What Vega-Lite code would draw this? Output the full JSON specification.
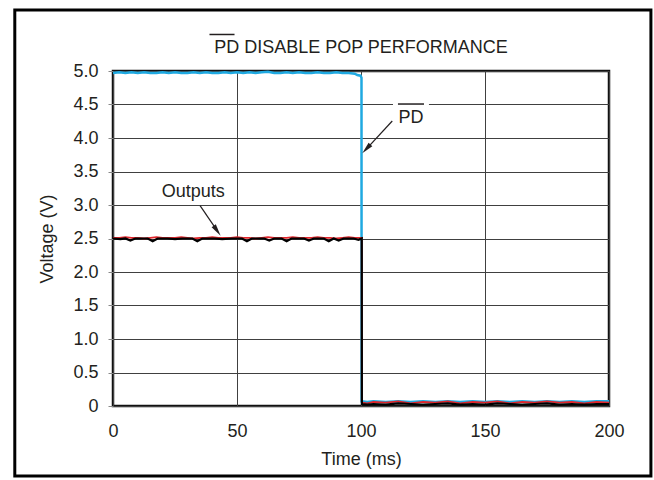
{
  "$schema": "https://vega.github.io/schema/vega-lite/v6.json",
  "width": 496,
  "height": 335,
  "autosize": {"type": "none"},
  "padding": {"left": 113, "top": 71, "right": 45, "bottom": 74},
  "background": "white",
  "config": {
    "font": "Liberation Sans",
    "view": {"stroke": "#111111", "strokeWidth": 2.5},
    "axis": {
      "labelFont": "Liberation Sans", "titleFont": "Liberation Sans",
      "labelFontSize": 18, "titleFontSize": 18, "labelColor": "#231f20", "titleColor": "#231f20",
      "titleFontWeight": "normal", "domain": false, "labelFlush": false, "labelOverlap": false,
      "grid": true, "gridColor": "#404040", "gridWidth": 1, "gridOpacity": 1
    },
    "axisX": {"tickCount": 4, "ticks": false, "labelPadding": 16, "titlePadding": 10},
    "axisY": {"tickCount": 10, "ticks": true, "tickSize": 5, "tickColor": "#888888", "tickWidth": 1,
      "labelPadding": 10, "titlePadding": 16,
      "labelExpr": "datum.value == 0 ? '0' : format(datum.value, '.1f')"}
  },
  "datasets": {
    "pd": [
      {"t": 0, "v": 4.97}, {"t": 2.5, "v": 4.98}, {"t": 5, "v": 4.97}, {"t": 7.5, "v": 4.98}, {"t": 10, "v": 4.97},
      {"t": 12.5, "v": 4.98}, {"t": 15, "v": 4.97}, {"t": 17.5, "v": 4.97}, {"t": 20, "v": 4.98}, {"t": 22.5, "v": 4.97},
      {"t": 25, "v": 4.98}, {"t": 27.5, "v": 4.97}, {"t": 30, "v": 4.97}, {"t": 32.5, "v": 4.98}, {"t": 35, "v": 4.97},
      {"t": 37.5, "v": 4.98}, {"t": 40, "v": 4.97}, {"t": 42.5, "v": 4.97}, {"t": 45, "v": 4.98}, {"t": 47.5, "v": 4.97},
      {"t": 50, "v": 4.98}, {"t": 52.5, "v": 4.97}, {"t": 55, "v": 4.98}, {"t": 57.5, "v": 4.97}, {"t": 60, "v": 4.98},
      {"t": 62.5, "v": 4.99}, {"t": 65, "v": 4.97}, {"t": 67.5, "v": 4.97}, {"t": 70, "v": 4.98}, {"t": 72.5, "v": 4.97},
      {"t": 75, "v": 4.98}, {"t": 77.5, "v": 4.97}, {"t": 80, "v": 4.97}, {"t": 82.5, "v": 4.98}, {"t": 85, "v": 4.97},
      {"t": 87.5, "v": 4.97}, {"t": 90, "v": 4.98}, {"t": 92.5, "v": 4.97}, {"t": 95, "v": 4.97}, {"t": 97.5, "v": 4.96},
      {"t": 98.5, "v": 4.94}, {"t": 99.8, "v": 4.93}, {"t": 100.2, "v": 4.9}, {"t": 100.25, "v": 0.07},
      {"t": 102.5, "v": 0.06}, {"t": 105, "v": 0.07}, {"t": 110, "v": 0.06}, {"t": 115, "v": 0.07}, {"t": 120, "v": 0.06},
      {"t": 125, "v": 0.07}, {"t": 130, "v": 0.06}, {"t": 135, "v": 0.07}, {"t": 140, "v": 0.06}, {"t": 145, "v": 0.07},
      {"t": 150, "v": 0.06}, {"t": 155, "v": 0.07}, {"t": 160, "v": 0.06}, {"t": 165, "v": 0.07}, {"t": 170, "v": 0.06},
      {"t": 175, "v": 0.07}, {"t": 180, "v": 0.06}, {"t": 185, "v": 0.07}, {"t": 190, "v": 0.06}, {"t": 195, "v": 0.07},
      {"t": 200, "v": 0.07}
    ],
    "outRed": [
      {"t": 0, "v": 2.51}, {"t": 2.5, "v": 2.51}, {"t": 5, "v": 2.52}, {"t": 7.5, "v": 2.51}, {"t": 10, "v": 2.51},
      {"t": 12.5, "v": 2.5}, {"t": 15, "v": 2.51}, {"t": 17.5, "v": 2.52}, {"t": 20, "v": 2.51}, {"t": 22.5, "v": 2.51},
      {"t": 25, "v": 2.51}, {"t": 27.5, "v": 2.52}, {"t": 30, "v": 2.51}, {"t": 32.5, "v": 2.5}, {"t": 35, "v": 2.51},
      {"t": 37.5, "v": 2.51}, {"t": 40, "v": 2.52}, {"t": 42.5, "v": 2.51}, {"t": 45, "v": 2.51}, {"t": 47.5, "v": 2.51},
      {"t": 50, "v": 2.52}, {"t": 52.5, "v": 2.51}, {"t": 55, "v": 2.51}, {"t": 57.5, "v": 2.5}, {"t": 60, "v": 2.51},
      {"t": 62.5, "v": 2.52}, {"t": 65, "v": 2.51}, {"t": 67.5, "v": 2.51}, {"t": 70, "v": 2.51}, {"t": 72.5, "v": 2.52},
      {"t": 75, "v": 2.51}, {"t": 77.5, "v": 2.51}, {"t": 80, "v": 2.51}, {"t": 82.5, "v": 2.52}, {"t": 85, "v": 2.51},
      {"t": 87.5, "v": 2.51}, {"t": 90, "v": 2.5}, {"t": 92.5, "v": 2.51}, {"t": 95, "v": 2.52}, {"t": 97.5, "v": 2.51},
      {"t": 100.3, "v": 2.51}, {"t": 100.35, "v": 0.05},
      {"t": 102.5, "v": 0.04}, {"t": 105, "v": 0.06}, {"t": 110, "v": 0.05}, {"t": 115, "v": 0.07}, {"t": 120, "v": 0.04},
      {"t": 125, "v": 0.06}, {"t": 130, "v": 0.05}, {"t": 135, "v": 0.07}, {"t": 140, "v": 0.04}, {"t": 145, "v": 0.06},
      {"t": 150, "v": 0.05}, {"t": 155, "v": 0.07}, {"t": 160, "v": 0.04}, {"t": 165, "v": 0.06}, {"t": 170, "v": 0.05},
      {"t": 175, "v": 0.07}, {"t": 180, "v": 0.05}, {"t": 185, "v": 0.06}, {"t": 190, "v": 0.04}, {"t": 195, "v": 0.06},
      {"t": 200, "v": 0.05}
    ],
    "outBlack": [
      {"t": 0, "v": 2.5}, {"t": 3, "v": 2.49}, {"t": 5, "v": 2.5}, {"t": 7, "v": 2.47}, {"t": 9, "v": 2.5},
      {"t": 14, "v": 2.5}, {"t": 16, "v": 2.46}, {"t": 18, "v": 2.5}, {"t": 22, "v": 2.5}, {"t": 25, "v": 2.49},
      {"t": 28, "v": 2.5}, {"t": 32, "v": 2.5}, {"t": 34, "v": 2.46}, {"t": 36, "v": 2.5}, {"t": 41, "v": 2.5},
      {"t": 44, "v": 2.49}, {"t": 48, "v": 2.5}, {"t": 52, "v": 2.5}, {"t": 54, "v": 2.46}, {"t": 56, "v": 2.5},
      {"t": 61, "v": 2.5}, {"t": 63, "v": 2.47}, {"t": 65, "v": 2.5}, {"t": 68, "v": 2.5}, {"t": 70, "v": 2.46},
      {"t": 72, "v": 2.5}, {"t": 77, "v": 2.5}, {"t": 79, "v": 2.47}, {"t": 81, "v": 2.5}, {"t": 85, "v": 2.5},
      {"t": 87, "v": 2.46}, {"t": 89, "v": 2.5}, {"t": 91, "v": 2.47}, {"t": 93, "v": 2.5}, {"t": 97, "v": 2.5},
      {"t": 99, "v": 2.48}, {"t": 100.3, "v": 2.5}, {"t": 100.35, "v": 0.03},
      {"t": 102.5, "v": 0.02}, {"t": 105, "v": 0.03}, {"t": 110, "v": 0.02}, {"t": 115, "v": 0.04}, {"t": 120, "v": 0.03},
      {"t": 125, "v": 0.02}, {"t": 130, "v": 0.03}, {"t": 135, "v": 0.04}, {"t": 140, "v": 0.02}, {"t": 145, "v": 0.03},
      {"t": 150, "v": 0.02}, {"t": 155, "v": 0.04}, {"t": 160, "v": 0.03}, {"t": 165, "v": 0.02}, {"t": 170, "v": 0.03},
      {"t": 175, "v": 0.04}, {"t": 180, "v": 0.02}, {"t": 185, "v": 0.03}, {"t": 190, "v": 0.02}, {"t": 195, "v": 0.03},
      {"t": 200, "v": 0.03}
    ]
  },
  "layer": [
    {
      "data": {"name": "pd"},
      "mark": {"type": "line", "color": "#1fa9e1", "strokeWidth": 2.5, "interpolate": "linear"},
      "encoding": {
        "x": {"field": "t", "type": "quantitative", "title": "Time (ms)",
          "scale": {"domain": [0, 200], "nice": false, "zero": false}},
        "y": {"field": "v", "type": "quantitative", "title": "Voltage (V)",
          "scale": {"domain": [0, 5], "nice": false}}
      }
    },
    {
      "data": {"name": "outRed"},
      "mark": {"type": "line", "color": "#e0262b", "strokeWidth": 1.8},
      "encoding": {
        "x": {"field": "t", "type": "quantitative", "title": "Time (ms)"},
        "y": {"field": "v", "type": "quantitative", "title": "Voltage (V)"}
      }
    },
    {
      "data": {"name": "outBlack"},
      "mark": {"type": "line", "color": "#000000", "strokeWidth": 2.2},
      "encoding": {
        "x": {"field": "t", "type": "quantitative", "title": "Time (ms)"},
        "y": {"field": "v", "type": "quantitative", "title": "Voltage (V)"}
      }
    },
    {
      "data": {"values": [{}]},
      "mark": {"type": "rect", "fill": "white", "stroke": null},
      "encoding": {
        "x": {"datum": 112.9, "type": "quantitative", "title": "Time (ms)"},
        "x2": {"datum": 127.4},
        "y": {"datum": 4.47, "type": "quantitative", "title": "Voltage (V)"},
        "y2": {"datum": 4.53}
      }
    },
    {
      "data": {"values": [{}]},
      "mark": {"type": "rule", "color": "#231f20", "strokeWidth": 1.5},
      "encoding": {
        "x": {"datum": 114.9, "type": "quantitative", "title": "Time (ms)"},
        "x2": {"datum": 125.4},
        "y": {"datum": 4.507, "type": "quantitative", "title": "Voltage (V)"}
      }
    },
    {
      "data": {"values": [{}]},
      "mark": {"type": "text", "text": "PD", "fontSize": 18, "color": "#231f20", "align": "center", "baseline": "alphabetic"},
      "encoding": {
        "x": {"datum": 120.2, "type": "quantitative", "title": "Time (ms)"},
        "y": {"datum": 4.224, "type": "quantitative", "title": "Voltage (V)"}
      }
    },
    {
      "data": {"values": [{}]},
      "mark": {"type": "rule", "color": "#231f20", "strokeWidth": 1.2},
      "encoding": {
        "x": {"datum": 112.6, "type": "quantitative", "title": "Time (ms)"},
        "y": {"datum": 4.254, "type": "quantitative", "title": "Voltage (V)"},
        "x2": {"datum": 102.5},
        "y2": {"datum": 3.85}
      }
    },
    {
      "data": {"values": [{}]},
      "mark": {"type": "point", "shape": "M0,0L0.38,1.8L-0.38,1.8Z", "filled": true, "color": "#231f20", "opacity": 1, "size": 180, "angle": 223},
      "encoding": {
        "x": {"datum": 100.5, "type": "quantitative", "title": "Time (ms)"},
        "y": {"datum": 3.772, "type": "quantitative", "title": "Voltage (V)"}
      }
    },
    {
      "data": {"values": [{}]},
      "mark": {"type": "text", "text": "Outputs", "fontSize": 18, "color": "#231f20", "align": "center", "baseline": "alphabetic"},
      "encoding": {
        "x": {"datum": 32.4, "type": "quantitative", "title": "Time (ms)"},
        "y": {"datum": 3.115, "type": "quantitative", "title": "Voltage (V)"}
      }
    },
    {
      "data": {"values": [{}]},
      "mark": {"type": "rule", "color": "#231f20", "strokeWidth": 1.2},
      "encoding": {
        "x": {"datum": 35.1, "type": "quantitative", "title": "Time (ms)"},
        "y": {"datum": 2.99, "type": "quantitative", "title": "Voltage (V)"},
        "x2": {"datum": 41.8},
        "y2": {"datum": 2.63}
      }
    },
    {
      "data": {"values": [{}]},
      "mark": {"type": "point", "shape": "M0,0L0.38,1.8L-0.38,1.8Z", "filled": true, "color": "#231f20", "opacity": 1, "size": 180, "angle": 145},
      "encoding": {
        "x": {"datum": 43.4, "type": "quantitative", "title": "Time (ms)"},
        "y": {"datum": 2.542, "type": "quantitative", "title": "Voltage (V)"}
      }
    },
    {
      "data": {"values": [{}]},
      "mark": {"type": "text", "text": "PD DISABLE POP PERFORMANCE", "fontSize": 18, "color": "#231f20", "align": "center", "baseline": "alphabetic"},
      "encoding": {
        "x": {"datum": 100, "type": "quantitative", "title": "Time (ms)"},
        "y": {"datum": 5.264, "type": "quantitative", "title": "Voltage (V)"}
      }
    },
    {
      "data": {"values": [{}]},
      "mark": {"type": "rule", "color": "#231f20", "strokeWidth": 1.5},
      "encoding": {
        "x": {"datum": 38.9, "type": "quantitative", "title": "Time (ms)"},
        "x2": {"datum": 49.0},
        "y": {"datum": 5.545, "type": "quantitative", "title": "Voltage (V)"}
      }
    },
    {
      "data": {"values": [{}]},
      "mark": {"type": "rect", "fill": null, "stroke": "#000000", "strokeWidth": 3},
      "encoding": {
        "x": {"datum": -39.6, "type": "quantitative", "title": "Time (ms)"},
        "x2": {"datum": 216.9},
        "y": {"datum": 5.91, "type": "quantitative", "title": "Voltage (V)"},
        "y2": {"datum": -1.045}
      }
    }
  ]
}
